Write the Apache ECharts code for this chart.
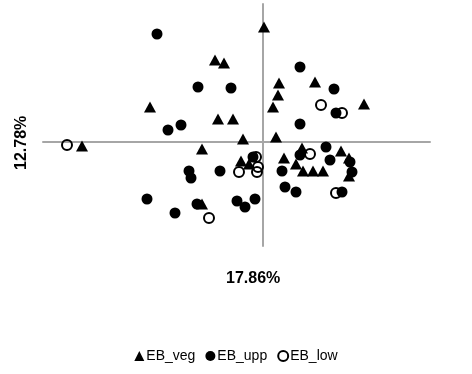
<!DOCTYPE html>
<html>
<head>
<meta charset="utf-8">
<script src="https://cdn.jsdelivr.net/npm/echarts@6/dist/echarts.min.js"></script>
<style>
    html, body { margin: 0; padding: 0; background: #fff; }
    #chart { width: 472px; height: 374px; }
</style>
</head>
<body>
<div id="chart"></div>
<script>
// 各组得分 [PC1, PC2]
var ebVeg = [
    [0.1, 11.5], [-4.8, 8.2], [-3.9, 7.9], [1.6, 5.9], [5.2, 6.0], [1.5, 4.7],
    [-11.3, 3.5], [1.0, 3.5], [10.1, 3.8], [-4.5, 2.3], [-3.0, 2.3], [-18.1, -0.4],
    [-6.1, -0.7], [-2.0, 0.3], [1.3, 0.5], [-2.2, -1.9], [-1.4, -2.2], [2.1, -1.6],
    [3.9, -0.6], [7.8, -0.9], [8.6, -1.6], [3.3, -2.2], [4.0, -2.9], [5.0, -2.9],
    [6.0, -2.9], [8.6, -3.4], [-6.1, -6.2]
];
var ebUpp = [
    [-10.6, 10.8], [-6.5, 5.5], [-3.2, 5.4], [3.7, 7.5], [7.1, 5.3], [-8.2, 1.7],
    [-9.5, 1.2], [3.7, 1.8], [7.3, 2.9], [-7.4, -2.9], [-7.2, -3.6], [-4.3, -2.9],
    [-11.6, -5.7], [-8.8, -7.1], [-6.6, -6.2], [-2.6, -5.9], [-1.8, -6.5], [-0.8, -5.7],
    [3.7, -1.3], [6.3, -0.5], [6.7, -1.8], [1.9, -2.9], [8.9, -3.0], [2.2, -4.5],
    [3.3, -5.0], [7.9, -5.0], [-1.0, -1.5], [8.7, -2.0]
];
var ebLow = [
    [-19.6, -0.3], [5.8, 3.7], [7.9, 2.9], [-2.4, -3.0], [-0.7, -1.5],
    [-0.5, -2.5], [-0.6, -3.0], [4.7, -1.2], [7.3, -5.1], [-5.4, -7.6]
];
var xTitle = '17.86%';
var yTitle = '12.78%';

var chart = echarts.init(document.getElementById('chart'));

var axisLineStyle = { color: '#a6a6a6', width: 2 };

var option = {
    animation: false,
    textStyle: { fontFamily: 'Arial, "Liberation Sans", sans-serif' },
    grid: { left: 43, right: 42, top: 4, bottom: 128 },
    xAxis: {
        type: 'value', min: -22, max: 16.7,
        axisLine: { show: true, onZero: true, lineStyle: axisLineStyle },
        axisTick: { show: false }, axisLabel: { show: false }, splitLine: { show: false }
    },
    yAxis: {
        type: 'value', min: -10.4, max: 13.8,
        axisLine: { show: true, onZero: true, lineStyle: axisLineStyle },
        axisTick: { show: false }, axisLabel: { show: false }, splitLine: { show: false }
    },
    legend: {
        top: 344, left: 'center',
        itemWidth: 10, itemHeight: 10, itemGap: 10,
        textStyle: { fontSize: 14, color: '#000', padding: [0, 0, 0, -3] },
        data: ['EB_veg', 'EB_upp', 'EB_low']
    },
    graphic: [{
        type: 'text', left: 226, top: 271,
        style: { text: xTitle, font: 'bold 16px Arial, "Liberation Sans"', fill: '#000' }
    }, {
        type: 'text', x: 14, y: 170, rotation: Math.PI / 2,
        style: { text: yTitle, font: 'bold 16px Arial, "Liberation Sans"', fill: '#000' }
    }],
    series: [{
        name: 'EB_veg', type: 'scatter', symbol: 'triangle', symbolSize: [12, 11],
        itemStyle: { color: '#000', opacity: 1 }, data: ebVeg
    }, {
        name: 'EB_upp', type: 'scatter', symbol: 'circle', symbolSize: 11,
        itemStyle: { color: '#000', opacity: 1 }, data: ebUpp
    }, {
        name: 'EB_low', type: 'scatter', symbol: 'circle', symbolSize: 10,
        itemStyle: { color: 'rgba(0,0,0,0)', borderColor: '#000', borderWidth: 2, opacity: 1 },
        data: ebLow
    }]
};

chart.setOption(option);
</script>
</body>
</html>
